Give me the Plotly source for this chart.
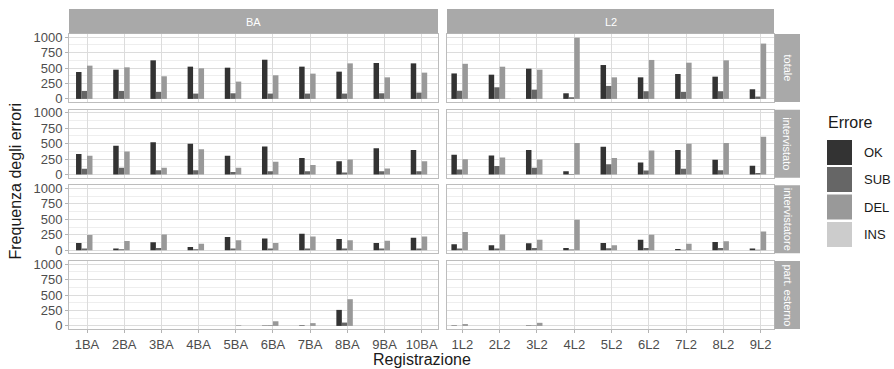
import plotly.graph_objects as go

W, H = 894, 369

# ---------------- data ----------------
series = ["OK", "SUB", "DEL", "INS"]
colors = ["#333333", "#666666", "#999999", "#cccccc"]

col_facets = ["BA", "L2"]
row_facets = ["totale", "intervistato", "intervistatore", "part. esterno"]

cats_BA = ["1BA", "2BA", "3BA", "4BA", "5BA", "6BA", "7BA", "8BA", "9BA", "10BA"]
cats_L2 = ["1L2", "2L2", "3L2", "4L2", "5L2", "6L2", "7L2", "8L2", "9L2"]

y_ticks = [0, 250, 500, 750, 1000]

totale_BA = {
    "OK":  [435, 473, 624, 522, 505, 634, 522, 441, 581, 575],
    "SUB": [129, 129, 113, 86, 91, 86, 86, 86, 91, 102],
    "DEL": [538, 511, 366, 495, 280, 382, 409, 575, 349, 425],
    "INS": [0, 0, 0, 0, 0, 0, 0, 0, 0, 0],
}
totale_L2 = {
    "OK":  [412, 392, 489, 91, 548, 349, 403, 360, 156],
    "SUB": [132, 188, 150, 27, 210, 124, 113, 124, 38],
    "DEL": [568, 521, 473, 990, 349, 630, 586, 624, 895],
    "INS": [0, 12, 0, 0, 0, 0, 0, 0, 0],
}
intervistato_BA = {
    "OK":  [333, 467, 522, 500, 306, 456, 267, 217, 428, 400],
    "SUB": [94, 111, 72, 72, 44, 56, 56, 33, 56, 56],
    "DEL": [306, 372, 111, 411, 111, 206, 156, 244, 100, 217],
    "INS": [0, 0, 0, 0, 0, 0, 0, 0, 0, 0],
}
intervistato_L2 = {
    "OK":  [322, 311, 400, 56, 450, 194, 400, 239, 144],
    "SUB": [83, 139, 111, 11, 167, 67, 94, 72, 28],
    "DEL": [250, 278, 244, 511, 267, 389, 500, 511, 611],
    "INS": [0, 0, 0, 0, 0, 0, 0, 0, 0],
}
intervistatore_BA = {
    "OK":  [117, 27, 128, 53, 213, 191, 266, 181, 117, 202],
    "SUB": [27, 16, 37, 16, 27, 27, 27, 27, 27, 27],
    "DEL": [245, 149, 255, 106, 160, 117, 223, 160, 154, 223],
    "INS": [0, 0, 0, 0, 0, 0, 0, 0, 0, 0],
}
intervistatore_L2 = {
    "OK":  [95, 79, 111, 37, 116, 169, 20, 132, 26],
    "SUB": [26, 26, 37, 10, 32, 37, 8, 37, 8],
    "DEL": [296, 254, 169, 492, 79, 249, 106, 143, 302],
    "INS": [0, 0, 0, 0, 0, 0, 0, 0, 0],
}
esterno_BA = {
    "OK":  [0, 0, 0, 0, 0, 5, 8, 259, 0, 0],
    "SUB": [0, 0, 0, 0, 0, 8, 0, 54, 0, 0],
    "DEL": [0, 0, 0, 0, 10, 75, 45, 432, 0, 0],
    "INS": [0, 0, 0, 0, 0, 0, 0, 0, 0, 0],
}
esterno_L2 = {
    "OK":  [6, 0, 6, 0, 0, 0, 0, 0, 0],
    "SUB": [0, 0, 6, 0, 0, 0, 0, 0, 0],
    "DEL": [30, 0, 50, 0, 0, 0, 0, 0, 0],
    "INS": [0, 0, 0, 0, 0, 0, 0, 0, 0],
}

grid_data = [
    [totale_BA, totale_L2],
    [intervistato_BA, intervistato_L2],
    [intervistatore_BA, intervistatore_L2],
    [esterno_BA, esterno_L2],
]
col_cats = [cats_BA, cats_L2]

# ---------------- layout geometry (pixels) ----------------
col_px = [(69, 438), (447, 774)]
row_px = [(34, 102), (109.7, 177.7), (185.3, 253.3), (261, 329)]
x_ranges = [[-0.484, 9.438], [-0.413, 8.357]]


def px(x):
    return x / W


def py(y):
    return 1 - y / H


FONT = "Liberation Sans, Arial, sans-serif"
STRIP = "#a9a9a9"
BORDER = "#bdbdbd"
GRID = "#dcdcdc"
MINOR = "#eeeeee"
TICKTXT = "#4d4d4d"

fig = go.Figure()
layout = dict(
    width=W, height=H, autosize=False,
    margin=dict(l=0, r=0, t=0, b=0, autoexpand=False),
    paper_bgcolor="white", plot_bgcolor="white",
    barmode="group", bargap=0.41, bargroupgap=0,
    showlegend=False,
    font=dict(family=FONT, color=TICKTXT, size=13),
)

for r in range(4):
    for c in range(2):
        k = r * 2 + c + 1
        xa = "x" if k == 1 else f"x{k}"
        ya = "y" if k == 1 else f"y{k}"
        cats = col_cats[c]
        d = grid_data[r][c]
        for s, colr in zip(series, colors):
            fig.add_trace(go.Bar(
                x=cats, y=d[s], name=s, marker=dict(color=colr, line=dict(width=0)),
                xaxis=xa, yaxis=ya, showlegend=False,
            ))
        bottom = (r == 3)
        layout[f"xaxis{'' if k == 1 else k}"] = dict(
            domain=[px(col_px[c][0]), px(col_px[c][1])],
            anchor=ya, type="category",
            categoryorder="array", categoryarray=cats,
            range=x_ranges[c], automargin=False,
            showgrid=True, gridcolor=GRID, gridwidth=1,
            showline=True, linecolor=BORDER, linewidth=1, mirror=True,
            showticklabels=bottom,
            ticks="outside" if bottom else "", ticklen=3, tickcolor="#b3b3b3",
            tickfont=dict(family=FONT, size=13, color=TICKTXT),
            zeroline=False, fixedrange=True,
        )
        layout[f"yaxis{'' if k == 1 else k}"] = dict(
            domain=[py(row_px[r][1]), py(row_px[r][0])],
            anchor=xa, range=[-50, 1050], automargin=False,
            tickvals=y_ticks,
            showgrid=True, gridcolor=GRID, gridwidth=1,
            minor=dict(dtick=125, tick0=0, showgrid=True, gridcolor=MINOR, ticklen=0),
            showline=True, linecolor=BORDER, linewidth=1, mirror=True,
            showticklabels=(c == 0),
            ticks="outside" if c == 0 else "", ticklen=3, tickcolor="#b3b3b3",
            tickfont=dict(family=FONT, size=13, color=TICKTXT),
            zeroline=False, fixedrange=True,
        )

fig.update_layout(**layout)

shapes = []
annotations = []

# top strips
for c in range(2):
    x0, x1 = col_px[c]
    shapes.append(dict(type="rect", xref="paper", yref="paper",
                       x0=px(x0), x1=px(x1), y0=py(33.5), y1=py(9),
                       fillcolor=STRIP, line=dict(width=0), layer="above"))
    annotations.append(dict(xref="paper", yref="paper", x=px((x0 + x1) / 2), y=py(21.5),
                            text=col_facets[c], showarrow=False,
                            font=dict(family=FONT, size=11, color="white"),
                            xanchor="center", yanchor="middle"))
# right strips
for r in range(4):
    y0, y1 = row_px[r]
    shapes.append(dict(type="rect", xref="paper", yref="paper",
                       x0=px(774.5), x1=px(800), y0=py(y1), y1=py(y0),
                       fillcolor=STRIP, line=dict(width=0), layer="above"))
    annotations.append(dict(xref="paper", yref="paper", x=px(787.5), y=py((y0 + y1) / 2),
                            text=row_facets[r], showarrow=False, textangle=90,
                            font=dict(family=FONT, size=11, color="white"),
                            xanchor="center", yanchor="middle"))

# axis titles
annotations.append(dict(xref="paper", yref="paper", x=px(421.5), y=py(359),
                        text="Registrazione", showarrow=False,
                        font=dict(family=FONT, size=16, color="#1a1a1a"),
                        xanchor="center", yanchor="middle"))
annotations.append(dict(xref="paper", yref="paper", x=px(15), y=py(181.5),
                        text="Frequenza degli errori", showarrow=False, textangle=-90,
                        font=dict(family=FONT, size=16, color="#1a1a1a"),
                        xanchor="center", yanchor="middle"))

# legend (drawn)
annotations.append(dict(xref="paper", yref="paper", x=px(826), y=py(123),
                        text="Errore", showarrow=False,
                        font=dict(family=FONT, size=16, color="#1a1a1a"),
                        xanchor="left", yanchor="middle"))
key_tops = [140, 167, 194.5, 222]
for s, colr, t in zip(series, colors, key_tops):
    shapes.append(dict(type="rect", xref="paper", yref="paper",
                       x0=px(827), x1=px(852), y0=py(t + 25), y1=py(t),
                       fillcolor=colr, line=dict(width=0)))
    annotations.append(dict(xref="paper", yref="paper", x=px(862), y=py(t + 12.5),
                            text=s, showarrow=False,
                            font=dict(family=FONT, size=13, color="#1a1a1a"),
                            xanchor="left", yanchor="middle"))

fig.update_layout(shapes=shapes, annotations=annotations)
fig.write_html(
    "out.html",
    config={"displayModeBar": False, "staticPlot": True},
    post_script="document.body.style.margin='0';document.body.style.overflow='hidden';",
)
